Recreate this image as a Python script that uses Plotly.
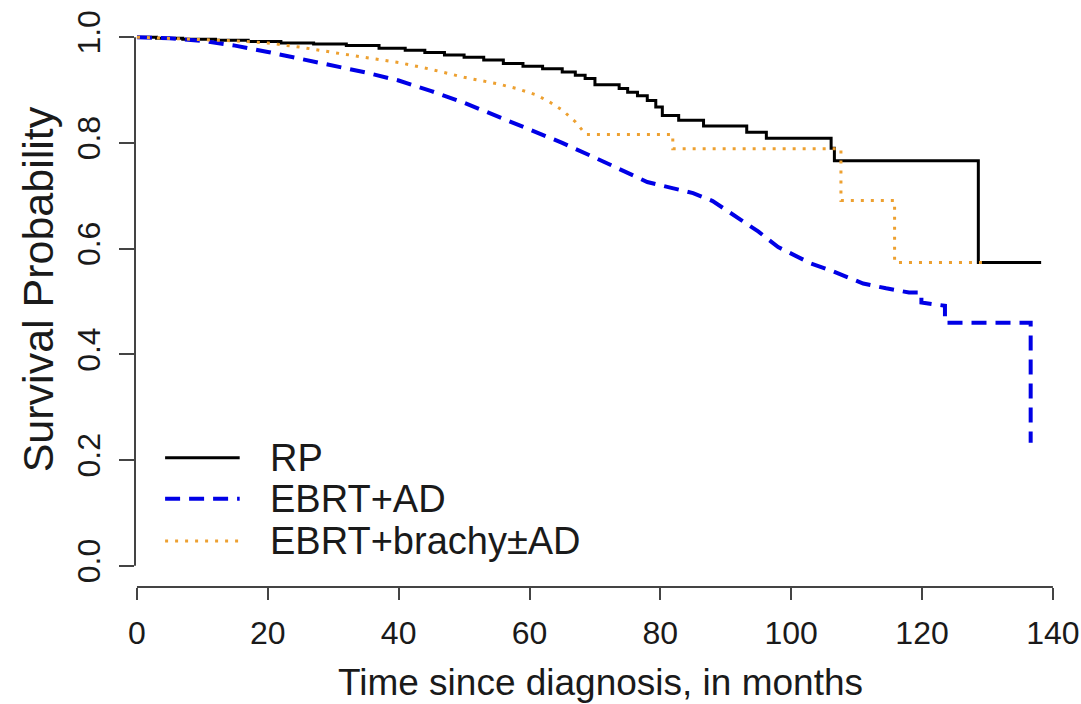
import plotly.graph_objects as go

# ---- data (time in months, survival probability) ----
rp_t = [0, 3, 7, 12, 17, 22, 27, 32, 37, 41, 44, 47, 50, 53, 56, 59, 62, 65, 67, 68.5,
        70, 73.7, 75, 76.5, 78, 79.3, 80.3, 82.8, 86.6, 93.2, 96.2, 106.1, 106.6, 128.6, 138.2]
rp_s = [1.0, 0.998, 0.996, 0.994, 0.992, 0.989, 0.987, 0.984, 0.979, 0.975, 0.971, 0.966,
        0.962, 0.957, 0.950, 0.945, 0.940, 0.934, 0.928, 0.922, 0.910, 0.903, 0.896, 0.889,
        0.880, 0.868, 0.852, 0.843, 0.832, 0.820, 0.809, 0.790, 0.766, 0.574, 0.574]

ebrt_t = [0, 5, 10, 15, 20, 25, 30, 35, 40, 45, 50, 55, 60, 65, 70, 75, 78, 82, 85, 88,
          92, 95, 98, 101, 103, 106, 109, 111, 114.5, 118, 119.9, 119.9, 123.5, 123.5,
          136.6, 136.6]
ebrt_s = [1.0, 0.998, 0.993, 0.984, 0.972, 0.959, 0.947, 0.933, 0.918, 0.898, 0.876, 0.851,
          0.825, 0.800, 0.772, 0.742, 0.726, 0.714, 0.705, 0.690, 0.657, 0.632, 0.603, 0.585,
          0.572, 0.559, 0.544, 0.534, 0.525, 0.517, 0.517, 0.498, 0.492, 0.460, 0.460, 0.233]

brachy_t = [0, 5, 10, 15, 20, 25, 30, 35, 40, 45, 50, 55, 58, 61, 63, 65, 67, 68.6,
            81.9, 81.9, 107.6, 107.6, 115.8, 115.8, 129.5]
brachy_s = [1.0, 0.998, 0.996, 0.993, 0.989, 0.981, 0.971, 0.962, 0.952, 0.939, 0.924,
            0.912, 0.903, 0.891, 0.878, 0.862, 0.840, 0.816, 0.816, 0.789, 0.789, 0.691,
            0.691, 0.574, 0.574]

series_names = ["RP", "EBRT+AD", "EBRT+brachy\u00b1AD"]
x_ticks = [0, 20, 40, 60, 80, 100, 120, 140]
y_ticks = [0.0, 0.2, 0.4, 0.6, 0.8, 1.0]
x_title = "Time since diagnosis, in months"
y_title = "Survival Probability"

FONT = "Liberation Sans, Arial, sans-serif"
TXT = "#1a1a1a"
AX = "#444444"
BLACK = "#000000"
BLUE = "#0000e6"
ORANGE = "#eda030"

styles = [
    dict(color=BLACK, width=3, dash="solid"),
    dict(color=BLUE, width=4, dash="15px,9px"),
    dict(color=ORANGE, width=3, dash="3px,7px"),
]

fig = go.Figure()
fig.add_trace(go.Scatter(x=rp_t, y=rp_s, mode="lines", name=series_names[0],
                         line=dict(**styles[0], shape="hv")))
fig.add_trace(go.Scatter(x=ebrt_t, y=ebrt_s, mode="lines", name=series_names[1],
                         line=dict(**styles[1])))
fig.add_trace(go.Scatter(x=brachy_t, y=brachy_s, mode="lines", name=series_names[2],
                         line=dict(**styles[2])))

shapes = [
    # R-style axis lines spanning only the tick range
    dict(type="line", xref="x", yref="paper", x0=x_ticks[0], x1=x_ticks[-1], y0=0, y1=0,
         line=dict(color=AX, width=2)),
    dict(type="line", xref="paper", yref="y", x0=0, x1=0, y0=y_ticks[0], y1=y_ticks[-1],
         line=dict(color=AX, width=2)),
]
annotations = [
    # y-axis title, centred on the 0..1 span like the reference
    dict(x=-103, xref="paper", xshift=0, y=0.523, yref="y", text=y_title, showarrow=False,
         textangle=-90, xanchor="center", yanchor="middle",
         font=dict(family=FONT, size=43, color=TXT)),
]
annotations[0]["x"] = (38 - 135) / 931.0

# manual legend (bottom-left, inside plot)
leg_rows = [0.2045, 0.127, 0.047]
for name, st, yy in zip(series_names, styles, leg_rows):
    shapes.append(dict(type="line", xref="x", yref="y", x0=4.3, x1=15.7, y0=yy, y1=yy,
                       line=dict(color=st["color"], width=st["width"], dash=st["dash"])))
    annotations.append(dict(x=20.0, y=yy, xref="x", yref="y", text=name, showarrow=False,
                            xanchor="left", yanchor="middle",
                            font=dict(family=FONT, size=38, color=TXT)))

fig.update_layout(
    width=1081, height=704,
    margin=dict(l=135, r=15, t=16, b=117, autoexpand=False),
    paper_bgcolor="white", plot_bgcolor="white",
    showlegend=False,
    shapes=shapes, annotations=annotations,
    font=dict(family=FONT, color=TXT),
    xaxis=dict(range=[-0.3, 142], tickmode="array", tickvals=x_ticks,
               ticktext=[str(v) for v in x_ticks], automargin=False,
               showgrid=False, zeroline=False, showline=False,
               ticks="outside", ticklen=12, tickwidth=2, tickcolor=AX,
               tickfont=dict(family=FONT, size=32, color=TXT), ticklabelstandoff=6,
               title=dict(text=x_title,
                          font=dict(family=FONT, size=37, color=TXT), standoff=18)),
    yaxis=dict(range=[-0.04, 1.04], tickmode="array", tickvals=y_ticks,
               ticktext=[f"{v:.1f}" for v in y_ticks], tickangle=-90, automargin=False,
               showgrid=False, zeroline=False, showline=False,
               ticks="outside", ticklen=15, tickwidth=2, tickcolor=AX,
               tickfont=dict(family=FONT, size=32, color=TXT), ticklabelstandoff=6),
)

fig.write_html("out.html")
